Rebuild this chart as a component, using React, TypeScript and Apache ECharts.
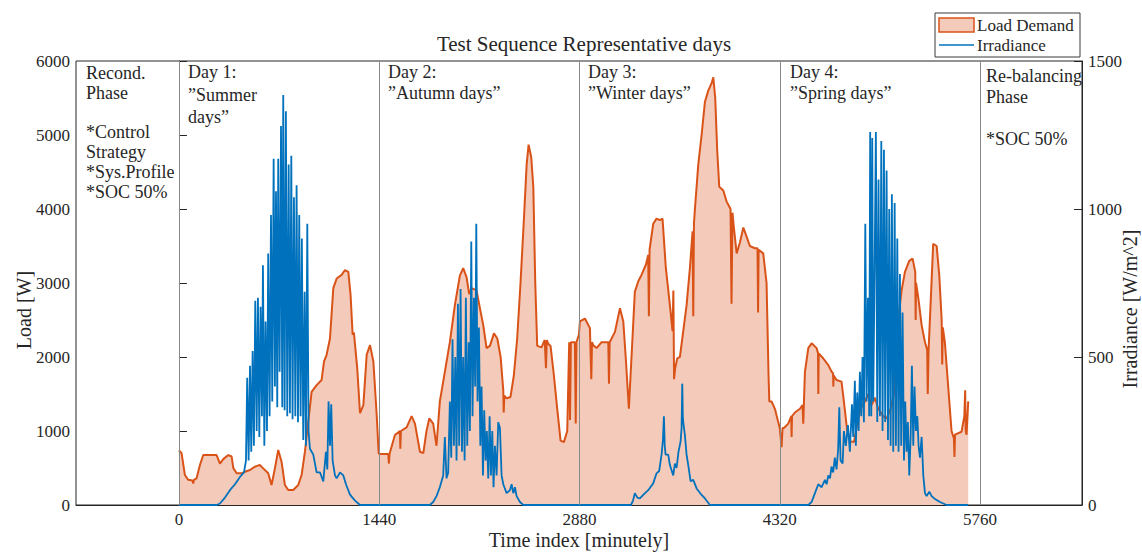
import React, { useEffect, useRef } from "react";
import * as echarts from "echarts";

// ---------- data (minute, value) ----------
const timeTicks = [0, 1440, 2880, 4320, 5760];

const loadDay1: [number, number][] = [
  [0, 740], [19, 700], [43, 405], [67, 340], [98, 330], [103, 290], [108, 340], [127, 360], [151, 540], [175, 675],
  [271, 675], [295, 560], [319, 620], [355, 675], [379, 655], [391, 500], [415, 428], [451, 428], [475, 450],
  [511, 473], [547, 518], [582, 540], [606, 495], [642, 428], [666, 270], [690, 495], [714, 743], [738, 585],
  [762, 270], [786, 203], [822, 203], [858, 270], [882, 405], [906, 720], [930, 1126], [954, 1530], [990, 1620],
  [1026, 1690], [1043, 1937], [1062, 2030], [1086, 2250], [1110, 2930], [1134, 3060], [1170, 3110], [1194, 3175],
  [1218, 3150], [1234, 2840], [1249, 2300], [1258, 2330], [1282, 1850], [1302, 1240], [1326, 1350], [1350, 2030],
  [1374, 2160], [1398, 1940], [1422, 1216], [1436, 700],
];
const loadDay2: [number, number][] = [
  [1440, 690], [1469, 690], [1505, 690], [1510, 560], [1514, 690], [1553, 945], [1589, 1000], [1592, 760],
  [1596, 1000], [1637, 1050], [1673, 1200], [1697, 1100], [1733, 720], [1757, 700], [1780, 1000], [1800, 1170],
  [1828, 1100], [1852, 800], [1876, 1400], [1912, 1800], [1948, 2200], [1984, 2700], [2020, 3100], [2044, 3200],
  [2068, 3080], [2087, 2850], [2104, 2930], [2140, 2900], [2164, 2660], [2188, 2430], [2212, 2120], [2236, 2150],
  [2265, 2320], [2289, 2250], [2313, 2000], [2332, 1550], [2335, 1250], [2340, 1480], [2356, 1440], [2384, 1460],
  [2408, 1750], [2432, 2250], [2456, 3000], [2480, 3850], [2500, 4600], [2514, 4870], [2533, 4700], [2548, 4300],
  [2562, 3000], [2576, 2150], [2607, 2130], [2630, 2230], [2639, 1850], [2645, 2230], [2655, 2180], [2672, 2150],
  [2696, 1750], [2720, 1300], [2744, 870], [2768, 850], [2792, 1000], [2806, 2200], [2812, 1150], [2818, 2200],
  [2847, 2200], [2853, 1100], [2858, 2200], [2876, 2300],
];
const loadDay3: [number, number][] = [
  [2883, 2480], [2919, 2520], [2955, 2390], [2965, 1700], [2970, 2200], [2979, 2160], [3003, 2120], [3039, 2200],
  [3087, 2200], [3092, 1640], [3097, 2200], [3135, 2340], [3171, 2660], [3195, 2480], [3214, 1950], [3235, 1300],
  [3254, 2000], [3278, 2880], [3302, 3020], [3326, 3110], [3358, 3250], [3374, 3380], [3379, 2550], [3384, 3450],
  [3410, 3800], [3434, 3870], [3458, 3850], [3477, 3870], [3501, 3200], [3530, 2700], [3549, 2350], [3555, 2900],
  [3560, 1700], [3568, 1850], [3583, 1980], [3602, 2000], [3626, 2350], [3650, 2700], [3674, 3200], [3693, 3700],
  [3698, 2550], [3703, 3800], [3710, 4000], [3734, 4600], [3758, 5000], [3782, 5450], [3806, 5600], [3830, 5700],
  [3842, 5780], [3856, 5500], [3870, 4800], [3885, 4300], [3914, 4250], [3938, 4100], [3966, 4000], [3973, 2720],
  [3980, 3950], [3990, 3750], [4010, 3400], [4034, 3550], [4058, 3750], [4077, 3650], [4105, 3500], [4141, 3470],
  [4160, 3470], [4164, 2600], [4168, 3450], [4201, 3400], [4225, 3000], [4240, 1700], [4245, 1400], [4261, 1400],
  [4285, 1300], [4309, 1120],
];
const loadDay4: [number, number][] = [
  [4320, 1040], [4333, 780], [4340, 1040], [4350, 1040], [4381, 1100], [4403, 1200], [4405, 920], [4408, 1200],
  [4429, 1250], [4465, 1300], [4484, 1350], [4489, 1100], [4494, 1400], [4501, 1800], [4525, 2120], [4549, 2185],
  [4585, 2120], [4595, 2050], [4597, 1500], [4600, 2050], [4633, 1980], [4669, 1890], [4693, 1800], [4703, 1780],
  [4705, 1600], [4708, 1750], [4728, 1690], [4764, 1667], [4781, 1400], [4805, 1000], [4829, 860], [4853, 850],
  [4877, 1100], [4901, 1300], [4932, 1400], [4956, 1500], [4980, 1350], [5004, 1450], [5028, 1300], [5064, 1200],
  [5088, 1170], [5117, 1300], [5141, 1500], [5172, 2500], [5196, 2900], [5220, 3150], [5251, 3300], [5275, 3330],
  [5294, 3150], [5297, 2500], [5300, 3000], [5316, 2800], [5340, 2430], [5364, 2200], [5380, 2100], [5384, 1500],
  [5390, 2100], [5404, 2700], [5423, 3530], [5448, 3500], [5467, 3100], [5484, 2500], [5488, 1900], [5492, 2400],
  [5507, 2200], [5531, 1600], [5555, 1000], [5572, 900], [5576, 650], [5580, 950], [5627, 990], [5647, 1200],
  [5653, 1550], [5657, 1000], [5663, 950], [5675, 1400],
];

const irrDay1: [number, number][] = [
  [0, 0], [271, 0], [295, 5], [331, 25], [367, 50], [403, 70], [439, 95], [468, 110], [482, 150], [491, 430],
  [501, 150], [511, 470], [520, 180], [530, 520], [539, 200], [549, 690], [559, 250], [568, 700], [578, 230],
  [587, 670], [597, 300], [604, 810], [614, 200], [623, 620], [633, 250], [642, 850], [652, 300], [662, 980],
  [671, 350], [681, 1170], [690, 400], [698, 1060], [707, 330], [714, 1170], [724, 450], [734, 1280], [743, 330],
  [750, 1385], [760, 320], [769, 1330], [779, 300], [789, 1150], [798, 310], [808, 1180], [817, 290], [827, 1040],
  [837, 300], [846, 1080], [856, 280], [865, 980], [875, 300], [884, 900], [894, 220], [904, 720], [913, 200],
  [923, 950], [932, 250], [942, 190], [966, 170], [990, 110], [1014, 110], [1038, 80], [1057, 180], [1067, 120],
  [1076, 350], [1086, 200], [1095, 340], [1105, 150], [1122, 100], [1134, 90], [1158, 110], [1182, 100],
  [1201, 70], [1230, 35], [1266, 15], [1302, 0], [1440, 0],
];
const irrDay2: [number, number][] = [
  [1804, 0], [1828, 10], [1852, 30], [1876, 60], [1900, 100], [1912, 230], [1924, 90], [1936, 110], [1948, 350],
  [1958, 160], [1967, 560], [1977, 200], [1987, 500], [1996, 150], [2006, 680], [2015, 200], [2025, 730],
  [2035, 180], [2044, 500], [2054, 150], [2063, 700], [2073, 200], [2083, 550], [2092, 250], [2102, 890],
  [2111, 300], [2121, 700], [2130, 400], [2138, 950], [2147, 350], [2157, 600], [2167, 200], [2176, 400],
  [2186, 100], [2195, 320], [2205, 150], [2214, 250], [2224, 90], [2234, 300], [2243, 100], [2253, 250],
  [2262, 60], [2272, 200], [2284, 100], [2296, 280], [2308, 260], [2320, 100], [2332, 70], [2356, 40],
  [2380, 50], [2392, 70], [2404, 40], [2416, 60], [2428, 30], [2452, 10], [2476, 0], [2880, 0],
];
const irrDay3: [number, number][] = [
  [3250, 0], [3265, 15], [3278, 40], [3296, 25], [3314, 22], [3340, 35], [3374, 50], [3410, 73], [3434, 107],
  [3453, 115], [3470, 170], [3480, 220], [3487, 300], [3493, 200], [3499, 170], [3518, 170], [3530, 135],
  [3554, 100], [3566, 140], [3578, 125], [3592, 180], [3607, 215], [3614, 260], [3619, 410], [3623, 300],
  [3626, 280], [3638, 235], [3650, 170], [3662, 135], [3679, 80], [3698, 85], [3722, 56], [3758, 34],
  [3782, 22], [3818, 0], [4320, 0],
];
const irrDay4: [number, number][] = [
  [4525, 0], [4549, 10], [4573, 40], [4597, 70], [4621, 60], [4645, 85], [4657, 70], [4669, 100], [4681, 90],
  [4692, 130], [4704, 110], [4716, 160], [4728, 120], [4740, 190], [4748, 330], [4757, 150], [4772, 140],
  [4781, 250], [4795, 200], [4810, 270], [4824, 180], [4839, 340], [4848, 230], [4860, 420], [4867, 200],
  [4877, 380], [4887, 250], [4896, 450], [4906, 300], [4915, 500], [4925, 280], [4935, 950], [4944, 350],
  [4954, 700], [4963, 300], [4970, 1260], [4978, 300], [4985, 1240], [4992, 350], [5002, 800], [5011, 1260],
  [5021, 280], [5030, 1100], [5040, 300], [5050, 1230], [5059, 250], [5069, 1200], [5078, 280], [5088, 1130],
  [5098, 220], [5107, 1000], [5117, 200], [5126, 1050], [5136, 180], [5146, 1020], [5155, 200], [5165, 900],
  [5174, 180], [5184, 780], [5193, 200], [5203, 650], [5213, 150], [5222, 350], [5232, 180], [5241, 280],
  [5251, 100], [5261, 230], [5270, 470], [5280, 200], [5289, 400], [5299, 250], [5309, 300], [5318, 200],
  [5328, 160], [5340, 230], [5352, 100], [5364, 40], [5376, 30], [5395, 45], [5412, 30], [5436, 20],
  [5472, 10], [5519, 0], [5675, 0],
];

const titleText = "Test Sequence Representative days";
const seriesNames = ["Load Demand", "Irradiance"];
const axisNames = { x: "Time index [minutely]", left: "Load [W]", right: "Irradiance [W/m^2]" };
const phaseNotes = [
  { text: "Recond.\nPhase\n\n*Control\nStrategy\n*Sys.Profile\n*SOC 50%", x: 86, y: 63, lh: 19.8 },
  { text: "Day 1:\n\u201DSummer\ndays\u201D", x: 188, y: 61, lh: 22.5 },
  { text: "Day 2:\n\u201DAutumn days\u201D", x: 388, y: 61, lh: 21.5 },
  { text: "Day 3:\n\u201DWinter days\u201D", x: 588, y: 61, lh: 21.5 },
  { text: "Day 4:\n\u201DSpring days\u201D", x: 790, y: 61, lh: 21.5 },
  { text: "Re-balancing\nPhase\n\n*SOC 50%", x: 986, y: 65, lh: 21 },
];

const FONT = '"Liberation Serif", "Times New Roman", serif';
const INK = "#262626";
const ORANGE = "#D95319";
const FILL = "#F4CBBA";
const BLUE = "#0072BD";

export default function App() {
  const ref = useRef<HTMLDivElement>(null);
  useEffect(() => {
    if (!ref.current) return;
    const chart = echarts.init(ref.current, null, { renderer: "svg" });
    const loadData = [...loadDay1, ...loadDay2, ...loadDay3, ...loadDay4];
    const irrData = [...irrDay1, ...irrDay2, ...irrDay3, ...irrDay4];
    const plain = (v: number) => String(v);
    const tickLabel = { fontFamily: FONT, fontSize: 17, color: INK, formatter: plain };
    const nameStyle = { fontFamily: FONT, fontSize: 20, color: INK };

    const graphics: any[] = phaseNotes.map((n) => ({
      type: "text",
      left: n.x,
      top: n.y,
      z: 50,
      style: { text: n.text, font: `18px ${FONT}`, fill: INK, lineHeight: n.lh },
    }));
    graphics.push(
      { type: "rect", shape: { x: 935, y: 13, width: 145, height: 44 }, style: { fill: "#fff", stroke: "#3a3a3a", lineWidth: 1 }, z: 60 },
      { type: "rect", shape: { x: 939, y: 18, width: 35, height: 14 }, style: { fill: FILL, stroke: ORANGE, lineWidth: 1.5 }, z: 61 },
      { type: "line", shape: { x1: 939, y1: 45, x2: 974, y2: 45 }, style: { stroke: BLUE, lineWidth: 1.5 }, z: 61 },
      { type: "text", x: 977, y: 25, z: 61, style: { text: seriesNames[0], font: `17px ${FONT}`, fill: INK, verticalAlign: "middle" } },
      { type: "text", x: 977, y: 45, z: 61, style: { text: seriesNames[1], font: `17px ${FONT}`, fill: INK, verticalAlign: "middle" } },
      {
        type: "text", x: 24, y: 310, rotation: Math.PI / 2, z: 61,
        style: { text: axisNames.left, font: `20px ${FONT}`, fill: INK, align: "center", verticalAlign: "middle" },
      },
      {
        type: "text", x: 1130, y: 309, rotation: Math.PI / 2, z: 61,
        style: { text: axisNames.right, font: `20px ${FONT}`, fill: INK, align: "center", verticalAlign: "middle" },
      }
    );

    chart.setOption({
      animation: false,
      backgroundColor: "#fff",
      title: {
        text: titleText,
        left: 579,
        top: 28,
        textAlign: "center",
        textStyle: { fontFamily: FONT, fontSize: 21, fontWeight: "normal", color: INK },
      },
      grid: {
        left: 76,
        right: 60,
        top: 61,
        bottom: 47,
        show: true,
        borderColor: INK,
        borderWidth: 1,
        containLabel: false,
        outerBoundsMode: "none",
      },
      xAxis: {
        type: "value",
        min: -740,
        max: 6493,
        axisLine: { show: true, onZero: false, lineStyle: { color: INK } },
        axisTick: { show: true, inside: true, length: 8, customValues: timeTicks, lineStyle: { color: INK } },
        axisLabel: { customValues: timeTicks, margin: 6, ...tickLabel },
        splitLine: { show: false },
        name: axisNames.x,
        nameLocation: "middle",
        nameGap: 25,
        nameMoveOverlap: false,
        nameTextStyle: nameStyle,
      },
      yAxis: [
        {
          type: "value",
          position: "left",
          min: 0,
          max: 6000,
          interval: 1000,
          axisLine: { show: true, lineStyle: { color: INK } },
          axisTick: { show: true, inside: true, length: 8, lineStyle: { color: INK } },
          axisLabel: { margin: 6, ...tickLabel },
          splitLine: { show: false },
        },
        {
          type: "value",
          position: "right",
          min: 0,
          max: 1500,
          interval: 500,
          axisLine: { show: true, lineStyle: { color: INK } },
          axisTick: { show: true, inside: true, length: 8, lineStyle: { color: INK } },
          axisLabel: { margin: 6, ...tickLabel },
          splitLine: { show: false },
        },
      ],
      series: [
        {
          name: seriesNames[0],
          type: "line",
          yAxisIndex: 0,
          data: loadData,
          showSymbol: false,
          symbol: "none",
          lineStyle: { color: ORANGE, width: 2 },
          itemStyle: { color: ORANGE },
          areaStyle: { color: FILL, opacity: 1 },
          z: 2,
          markLine: {
            silent: true,
            symbol: ["none", "none"],
            label: { show: false },
            lineStyle: { color: "#8a8a8a", width: 1, type: "solid" },
            data: timeTicks.map((t) => ({ xAxis: t })),
          },
        },
        {
          name: seriesNames[1],
          type: "line",
          yAxisIndex: 1,
          data: irrData,
          showSymbol: false,
          symbol: "none",
          lineStyle: { color: BLUE, width: 1.8 },
          itemStyle: { color: BLUE },
          z: 3,
        },
      ],
      graphic: graphics,
    });
    return () => chart.dispose();
  }, []);
  return (
    <div
      ref={ref}
      style={{ position: "fixed", left: 0, top: 0, width: 1142, height: 552, background: "#fff" }}
    />
  );
}
